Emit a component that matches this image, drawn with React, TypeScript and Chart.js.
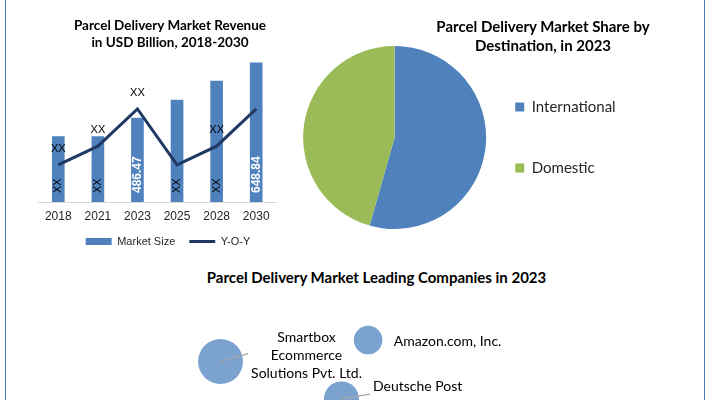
import React, { useEffect, useRef } from 'react';
import { Chart, registerables } from 'chart.js';

Chart.register(...registerables);

// ---------- data ----------
const years = ['2018', '2021', '2023', '2025', '2028', '2030'];
const marketSize = [432, 432, 486.47, 539, 595, 648.84];
const yoyGrowth = [4, 6, 10, 4, 6, 10];
const barValueLabels = ['XX', 'XX', '486.47', 'XX', 'XX', '648.84'];
const yoyValueLabels = ['XX', 'XX', 'XX', '', 'XX', ''];

const destinations = ['International', 'Domestic'];
const destinationShare = [54.4, 45.6];

const companies = ['Smartbox Ecommerce Solutions Pvt. Ltd.', 'Amazon.com, Inc.', 'Deutsche Post'];
const companyLabelLines = [['Smartbox', 'Ecommerce', 'Solutions Pvt. Ltd.'], ['Amazon.com, Inc.'], ['Deutsche Post']];
const companyX = [1.72, 5.32, 4.67];
const companyY = [3.5, 5.45, 0.1];
const companySize = [22.5, 14.3, 17.5];

// ---------- styles ----------
const BLUE = '#4f81bd';
const GREEN = '#9bbb59';
const NAVY = '#1f3864';
const BUBBLE = '#7ca3d0';
const TEXT = '#262626';
const ARIAL = '"Liberation Sans", Arial, sans-serif';
const CALIBRI = 'Lato, "Open Sans", sans-serif';

const barLabelPlugin = {
  id: 'barLabelPlugin',
  afterDatasetsDraw(chart: any) {
    const ctx = chart.ctx;
    const bottom = chart.chartArea.bottom;
    const barMeta = chart.getDatasetMeta(0);
    barMeta.data.forEach((el: any, i: number) => {
      const txt = barValueLabels[i];
      if (!txt) return;
      const isNum = txt !== 'XX';
      const base = Math.min(el.base, bottom);
      ctx.save();
      ctx.translate(el.x, base - 9);
      ctx.rotate(-Math.PI / 2);
      ctx.font = isNum ? `bold 12px ${ARIAL}` : `11px ${ARIAL}`;
      ctx.fillStyle = isNum ? '#ffffff' : '#000000';
      ctx.textAlign = 'left';
      ctx.textBaseline = 'middle';
      ctx.fillText(txt, 0, 0);
      ctx.restore();
    });
    const lineMeta = chart.getDatasetMeta(1);
    lineMeta.data.forEach((pt: any, i: number) => {
      const txt = yoyValueLabels[i];
      if (!txt) return;
      ctx.save();
      ctx.font = `11px ${ARIAL}`;
      ctx.fillStyle = '#000000';
      ctx.textAlign = 'center';
      ctx.textBaseline = 'middle';
      ctx.fillText(txt, pt.x, pt.y - 16);
      ctx.restore();
    });
  },
};

const bubbleLabelStyle = [
  { dx: 86, dy: -6.5, align: 'center', line: [27.5, -7.8] },
  { dx: 25.7, dy: 1.7, align: 'left', line: null },
  { dx: 31.5, dy: -12, align: 'left', line: [28.5, -4.7] },
];

const bubbleLabelPlugin = {
  id: 'bubbleLabelPlugin',
  afterDatasetsDraw(chart: any) {
    const ctx = chart.ctx;
    const meta = chart.getDatasetMeta(0);
    meta.data.forEach((el: any, i: number) => {
      const st = bubbleLabelStyle[i];
      ctx.save();
      if (st.line) {
        ctx.strokeStyle = '#a6a6a6';
        ctx.lineWidth = 1.25;
        ctx.beginPath();
        ctx.moveTo(el.x, el.y);
        ctx.lineTo(el.x + st.line[0], el.y + st.line[1]);
        ctx.stroke();
      }
      ctx.font = `14px ${CALIBRI}`;
      ctx.fillStyle = '#000000';
      ctx.textAlign = st.align;
      ctx.textBaseline = 'middle';
      const lines = companyLabelLines[i];
      const lh = 18;
      lines.forEach((ln, k) => {
        ctx.fillText(ln, el.x + st.dx, el.y + st.dy + (k - (lines.length - 1) / 2) * lh);
      });
      ctx.restore();
    });
  },
};

function RevenueChart() {
  const ref = useRef<HTMLCanvasElement>(null);
  useEffect(() => {
    const chart = new Chart(ref.current as HTMLCanvasElement, {
      type: 'bar',
      data: {
        labels: years,
        datasets: [
          {
            type: 'bar',
            label: 'Market Size',
            data: marketSize,
            backgroundColor: BLUE,
            barThickness: 12,
            yAxisID: 'y',
            order: 1,
          } as any,
          {
            type: 'line',
            label: 'Y-O-Y',
            data: yoyGrowth,
            borderColor: NAVY,
            backgroundColor: NAVY,
            borderWidth: 3,
            pointRadius: 0,
            tension: 0,
            fill: false,
            yAxisID: 'y2',
            order: 0,
          } as any,
        ],
      },
      options: {
        responsive: false,
        animation: false,
        layout: { autoPadding: false, padding: { top: 55, left: 0, right: 0, bottom: 0 } },
        plugins: {
          title: { display: false },
          tooltip: { enabled: false },
          legend: {
            position: 'bottom',
            labels: {
              usePointStyle: true,
              pointStyleWidth: 26,
              boxHeight: 7,
              padding: 14,
              color: TEXT,
              font: { family: ARIAL, size: 11 },
              generateLabels: (c: any) =>
                c.data.datasets.map((ds: any, i: number) => ({
                  text: ds.label,
                  fillStyle: i === 0 ? BLUE : NAVY,
                  strokeStyle: i === 0 ? BLUE : NAVY,
                  lineWidth: i === 0 ? 0 : 3,
                  pointStyle: i === 0 ? 'rect' : 'line',
                  fontColor: TEXT,
                  hidden: false,
                  datasetIndex: i,
                })),
            },
          },
        },
        scales: {
          x: {
            grid: { display: false, drawTicks: false },
            border: { display: true, color: '#d9d9d9', width: 1 },
            ticks: { color: TEXT, font: { family: ARIAL, size: 12 }, padding: 7, maxRotation: 0 },
            afterFit: (s: any) => {
              s.height = 20;
            },
          },
          y: {
            position: 'left',
            min: 240,
            max: 671.7,
            ticks: { display: false },
            grid: { display: false },
            border: { display: false },
            afterFit: (s: any) => {
              s.width = 38.5;
            },
          },
          y2: {
            position: 'right',
            min: 0,
            max: 15.8,
            ticks: { display: false },
            grid: { display: false },
            border: { display: false },
            afterFit: (s: any) => {
              s.width = 60;
            },
          },
        },
      } as any,
      plugins: [barLabelPlugin],
    });
    return () => chart.destroy();
  }, []);
  return (
    <canvas
      ref={ref}
      width={336}
      height={257}
      style={{ position: 'absolute', left: 0, top: 0, width: 336, height: 257 }}
    />
  );
}

function DestinationChart() {
  const ref = useRef<HTMLCanvasElement>(null);
  useEffect(() => {
    const chart = new Chart(ref.current as HTMLCanvasElement, {
      type: 'pie',
      data: {
        labels: destinations,
        datasets: [
          {
            data: destinationShare,
            backgroundColor: [BLUE, GREEN],
            borderWidth: 0,
            radius: 91.5,
            clip: false,
          } as any,
        ],
      },
      options: {
        responsive: false,
        animation: false,
        layout: { autoPadding: false, padding: { left: 20, top: 53.5, bottom: 38.5, right: 92.5 } },
        plugins: {
          tooltip: { enabled: false },
          legend: {
            position: 'right',
            align: 'start',
            fullSize: false,
            labels: {
              boxWidth: 9,
              boxHeight: 9,
              padding: 46,
              color: TEXT,
              font: { family: CALIBRI, size: 15 },
            },
          },
        },
      } as any,
    });
    return () => chart.destroy();
  }, []);
  return (
    <canvas
      ref={ref}
      width={411}
      height={260}
      style={{ position: 'absolute', left: 300, top: 0, width: 411, height: 260 }}
    />
  );
}

function CompaniesChart() {
  const ref = useRef<HTMLCanvasElement>(null);
  useEffect(() => {
    const chart = new Chart(ref.current as HTMLCanvasElement, {
      type: 'bubble',
      data: {
        labels: companies,
        datasets: [
          {
            label: 'Leading Companies',
            data: companies.map((_, i) => ({ x: companyX[i], y: companyY[i], r: companySize[i] })),
            backgroundColor: BUBBLE,
            borderWidth: 0,
            clip: false,
          } as any,
        ],
      },
      options: {
        responsive: false,
        animation: false,
        layout: { autoPadding: false, padding: 0 },
        scales: {
          x: { display: false, min: 0, max: 10 },
          y: { display: false, min: 0, max: 10 },
        },
        plugins: { legend: { display: false }, tooltip: { enabled: false } },
      } as any,
      plugins: [bubbleLabelPlugin],
    });
    return () => chart.destroy();
  }, []);
  return (
    <canvas
      ref={ref}
      width={410}
      height={110}
      style={{ position: 'absolute', left: 150, top: 290, width: 410, height: 110 }}
    />
  );
}

const titleStyle: React.CSSProperties = {
  position: 'absolute',
  fontFamily: CALIBRI,
  fontWeight: 700,
  color: '#000',
  textAlign: 'center',
  whiteSpace: 'nowrap',
};

export default function App() {
  return (
    <div
      style={{
        position: 'fixed',
        left: 0,
        top: 0,
        width: 711,
        height: 400,
        overflow: 'hidden',
        background: '#ffffff',
      }}
    >
      <RevenueChart />
      <DestinationChart />
      <CompaniesChart />
      <div style={{ ...titleStyle, fontSize: 13.5, left: 20, width: 300, top: 16.5, lineHeight: '17px' }}>
        Parcel Delivery Market Revenue
        <br />
        in USD Billion, 2018-2030
      </div>
      <div style={{ ...titleStyle, fontSize: 15, left: 393, width: 300, top: 16.5, lineHeight: '19px' }}>
        Parcel Delivery Market Share by
        <br />
        Destination, in 2023
      </div>
      <div style={{ ...titleStyle, fontSize: 15, left: 176.5, width: 400, top: 267.5, lineHeight: '19px' }}>
        Parcel Delivery Market Leading Companies in 2023
      </div>
      <div
        style={{
          position: 'absolute',
          left: 5,
          top: 0,
          width: 700,
          height: 400,
          boxSizing: 'border-box',
          borderLeft: '1px solid #4a7ebb',
          borderRight: '1px solid #4a7ebb',
          pointerEvents: 'none',
        }}
      />
    </div>
  );
}
